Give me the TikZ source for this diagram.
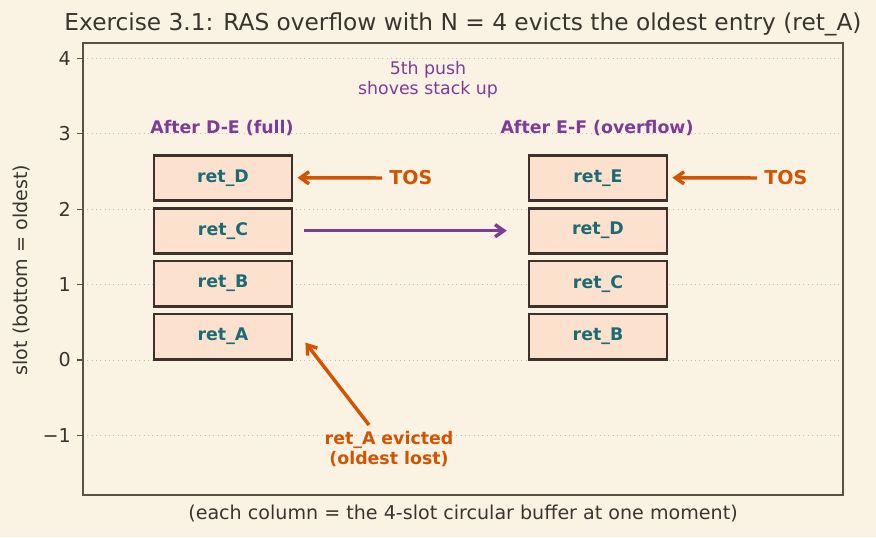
\documentclass[tikz,border=0pt]{standalone}
\usepackage{fontspec}
\setmainfont{DejaVu Sans}
\usetikzlibrary{arrows.meta,positioning,calc}

\definecolor{paper}{HTML}{FAF3E4}
\definecolor{ink}{HTML}{3B342E}
\definecolor{spine}{HTML}{5C5045}
\definecolor{gridc}{HTML}{C9BFB0}
\definecolor{boxfill}{HTML}{FCE1CE}
\definecolor{boxedge}{HTML}{3E302B}
\definecolor{slottext}{HTML}{1B6A74}
\definecolor{pushc}{HTML}{7D3C98}
\definecolor{tosc}{HTML}{D35400}

\tikzset{
  slotbox/.style={draw=boxedge, fill=boxfill, line width=1.6pt,
    minimum width=79.5pt, minimum height=26pt, inner sep=0pt,
    text=slottext, font=\fontsize{10}{12}\selectfont\bfseries},
  heading/.style={text=pushc, font=\fontsize{10}{12}\selectfont\bfseries},
  toslabel/.style={anchor=west, inner sep=0pt, text=tosc,
    font=\fontsize{11}{13}\selectfont\bfseries},
  tosarrow/.style={draw=tosc, line width=2pt,
    -{Straight Barb[length=5pt, width=7pt]}},
  shovearrow/.style={draw=pushc, line width=2pt,
    -{Straight Barb[length=5pt, width=7pt]}},
  ticklabel/.style={anchor=east, inner sep=0pt, text=ink,
    font=\fontsize{11}{13}\selectfont}
}

\begin{document}
\begin{tikzpicture}[x=0.576pt, y=-0.576pt]
    % page and axes frame
    \fill[paper] (0,0) rectangle (876,537);
    \useasboundingbox (0,0) rectangle (876,537);

    % dotted grid and y ticks
    \foreach \v/\t in {4/4, 3/3, 2/2, 1/1, 0/0, -1/−1} {
        \draw[gridc, line width=0.5pt, dotted] (83,360-75.4*\v) -- (843,360-75.4*\v);
        \draw[spine, line width=0.8pt] (77,360-75.4*\v) -- (83,360-75.4*\v);
        \node[ticklabel] at (71,360-75.4*\v) {\t};
    }
    \draw[spine, line width=1pt] (83,43) rectangle (843,495);

    % title and axis labels
    \node[text=ink, font=\fontsize{13.4}{15}\selectfont] (title) at (463,24)
        {Exercise 3.1: RAS overflow with N = 4 evicts the oldest entry (ret\_A)};
    \node[text=ink, font=\fontsize{11}{13}\selectfont] (xlab) at (463,513)
        {(each column = the 4-slot circular buffer at one moment)};
    \node[text=ink, font=\fontsize{11}{13}\selectfont, rotate=90] (ylab) at (22,270)
        {slot (bottom = oldest)};

    % left stack: after D-E
    \node[slotbox] (dA) at (223,336.6) {ret\_A};
    \node[slotbox, above=2.9pt of dA] (dB) {ret\_B};
    \node[slotbox, above=2.9pt of dB] (dC) {ret\_C};
    \node[slotbox, above=2.9pt of dC] (dD) {ret\_D};
    \node[heading] (hD) at (222,128) {After D-E (full)};

    % right stack: after E-F
    \node[slotbox] (eB) at (598,336.6) {ret\_B};
    \node[slotbox, above=2.9pt of eB] (eC) {ret\_C};
    \node[slotbox, above=2.9pt of eC] (eD) {ret\_D};
    \node[slotbox, above=2.9pt of eD] (eE) {ret\_E};
    \node[heading] (hE) at (597,128) {After E-F (overflow)};

    % top of stack markers
    \node[toslabel] (tosD) at (389,178) {TOS};
    \node[toslabel] (tosE) at (764,178) {TOS};
    \draw[tosarrow] ([xshift=-4pt]tosD.west) -- ([xshift=2.3pt]dD.east);
    \draw[tosarrow] ([xshift=-4pt]tosE.west) -- ([xshift=2.3pt]eE.east);

    % the push
    \draw[shovearrow] ([xshift=6.3pt]dC.east) -- ([xshift=-12pt]eD.west);
    \node[text=pushc, align=center, font=\fontsize{10}{11.5}\selectfont] (push) at (428,80)
        {5th push\\shoves stack up};

    % eviction note
    \node[text=tosc, align=center, font=\fontsize{10}{12}\selectfont\bfseries] (evict) at (389,449)
        {ret\_A evicted\\(oldest lost)};
    \coordinate (evtail) at (369,425);
    \draw[tosarrow] (evtail) -- ($(dA.south east)+(12,-18)$);
\end{tikzpicture}
\end{document}
